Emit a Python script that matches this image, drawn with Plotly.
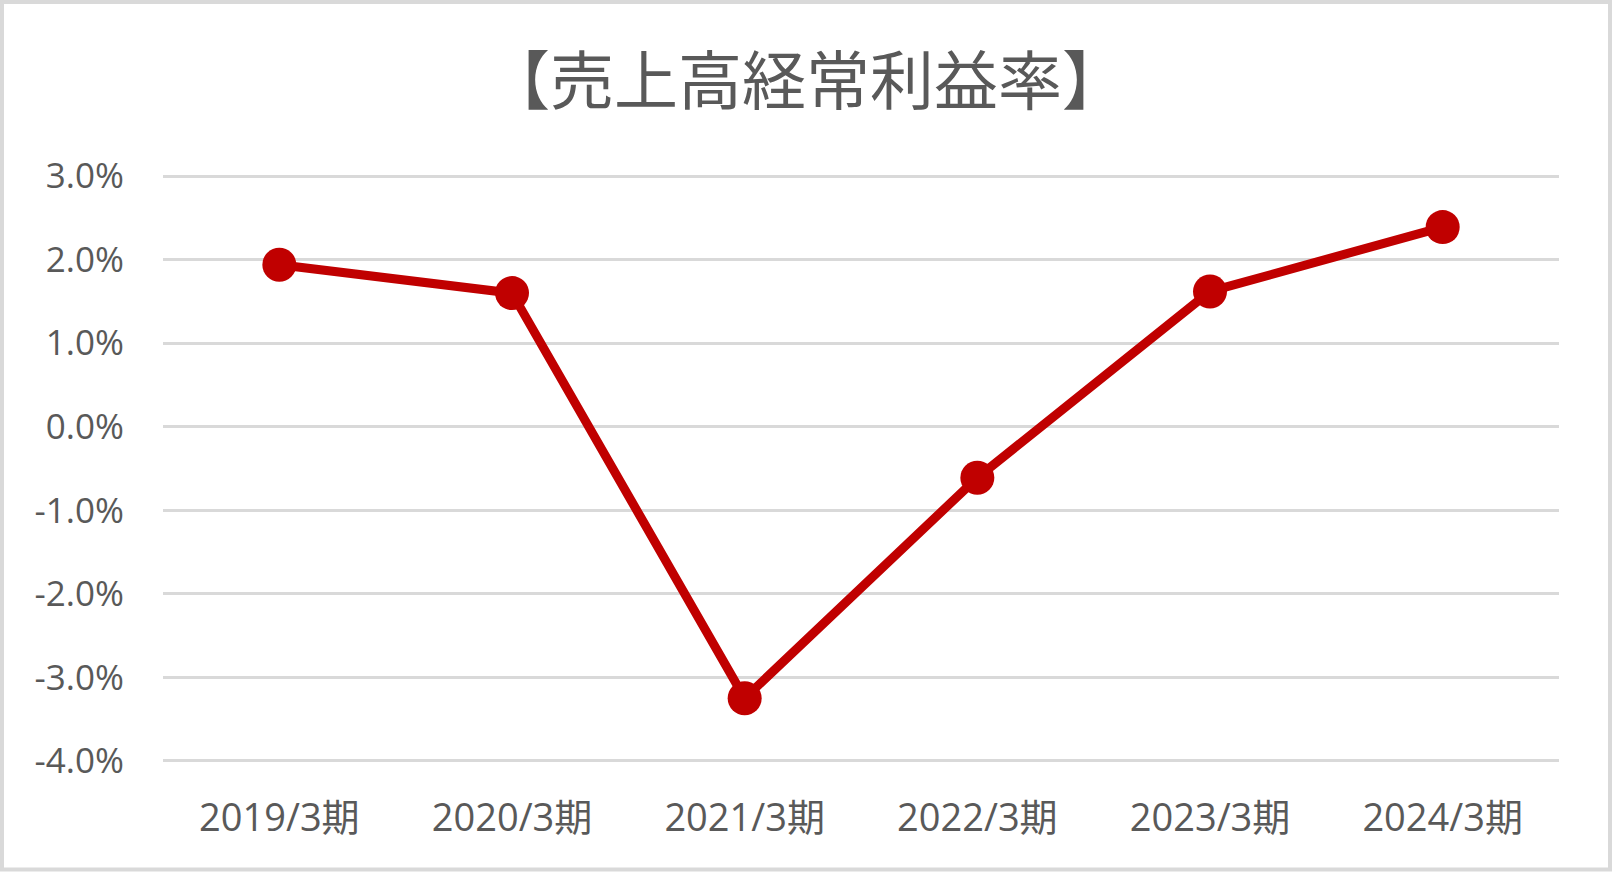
import plotly.graph_objects as go

categories = ["2019/3期", "2020/3期", "2021/3期", "2022/3期", "2023/3期", "2024/3期"]
margin_values = [1.94, 1.60, -3.25, -0.61, 1.62, 2.39]  # %
y_tick_vals = [3.0, 2.0, 1.0, 0.0, -1.0, -2.0, -3.0, -4.0]
y_tick_text = ["3.0%", "2.0%", "1.0%", "0.0%", "-1.0%", "-2.0%", "-3.0%", "-4.0%"]
title_text = "【売上高経常利益率】"

W, H = 1612, 872
ML, MR, MT, MB = 163, 53, 172, 107
PW, PH = W - ML - MR, H - MT - MB

RED = "#C00000"
GRID = "#D9D9D9"
TXT = "#595959"
FONT = "Open Sans, Noto Sans CJK JP, sans-serif"

fig = go.Figure()
fig.add_trace(go.Scatter(
    x=categories, y=margin_values, mode="lines+markers",
    line=dict(color=RED, width=9),
    marker=dict(color=RED, size=34),
    showlegend=False, cliponaxis=False,
))

def px_x(p):
    return (p - ML) / PW

def px_y(p):
    return (H - MB - p) / PH

fig.add_shape(type="rect", xref="paper", yref="paper",
              x0=px_x(2), x1=px_x(W - 2), y0=px_y(2), y1=px_y(H - 2.5),
              line=dict(color=GRID, width=4), fillcolor="rgba(0,0,0,0)", layer="below")

fig.update_layout(
    width=W, height=H,
    margin=dict(l=ML, r=MR, t=MT, b=MB, pad=0),
    paper_bgcolor="white", plot_bgcolor="white",
    title=dict(text=title_text, x=806 / W, xref="container", xanchor="center",
               y=1 - 82 / H, yref="container", yanchor="middle",
               font=dict(family="Noto Sans CJK JP, sans-serif", size=64, color=TXT)),
    font=dict(family=FONT, color=TXT),
)
fig.update_xaxes(
    type="category", range=[-0.5, 5.5], showgrid=False, zeroline=False, showline=False,
    ticks="", tickfont=dict(size=38, color=TXT, family=FONT), ticklabelstandoff=27,
)
fig.update_yaxes(
    range=[-4.05, 3.05], tickvals=y_tick_vals, ticktext=y_tick_text,
    showgrid=True, gridcolor=GRID, gridwidth=2.5, zeroline=False, showline=False,
    ticks="", tickfont=dict(size=35, color=TXT, family=FONT), ticklabelstandoff=38,
)

fig.write_html("out.html", config={"displayModeBar": False},
               post_script="document.body.style.margin='0';")
